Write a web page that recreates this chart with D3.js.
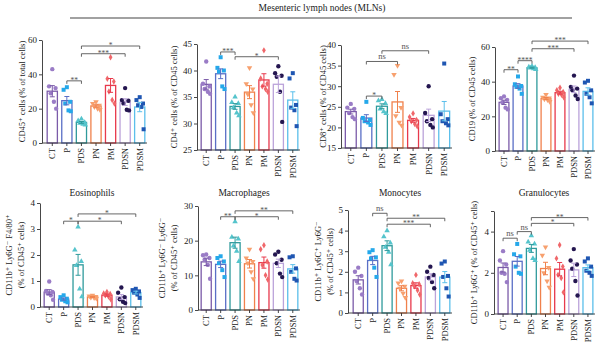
<!DOCTYPE html>
<html>
<head>
<meta charset="utf-8">
<script src="https://cdn.jsdelivr.net/npm/d3@7"></script>
<style>
  body { margin: 0; background: #fff; }
  svg { display: block; }
  text { font-family: "Liberation Serif", "DejaVu Serif", serif; fill: #222; }
</style>
</head>
<body>
<svg id="mln" width="600" height="348"></svg>
<script>
const groups = ["CT", "P", "PDS", "PN", "PM", "PDSN", "PDSM"];

// per-mouse values for each group, same order as groups
const cd45 = [
  [43, 33, 32, 29, 24, 20],
  [32.5, 31, 24, 23, 19, 18.5],
  [14, 13, 12, 11.5, 11, 10.5],
  [24, 23, 22, 21, 20, 19.5],
  [50, 37.4, 35.8, 30, 25, 23],
  [32, 25, 24.6, 23, 19.4, 19],
  [26.7, 25, 23, 22, 21, 8]
];
const cd4 = [
  [41.7, 37.5, 37, 36.5, 36, 35.6],
  [42.5, 40.5, 40, 39.8, 37, 36.5],
  [35, 34, 33.8, 33, 32, 31.5],
  [40.5, 37.5, 36.5, 35.5, 33.5, 32],
  [43.8, 38.5, 37.5, 37, 36.5, 36],
  [40.8, 39.5, 39, 38.8, 36, 30.3],
  [39.5, 38.5, 33.5, 33, 32.5, 29.5]
];
const cd8 = [
  [25.7, 24.8, 24.5, 23.5, 22.5, 22],
  [26.2, 22.3, 21.8, 21.5, 21.2, 20.6],
  [26.8, 26.5, 25.8, 24.5, 23.8, 23.4],
  [35, 32.8, 24.8, 22.8, 21.2, 20.5],
  [23.4, 22.5, 21.8, 21.5, 20.8, 20.3],
  [30, 23.5, 22, 21.5, 20.6, 20],
  [35.5, 23.2, 22, 21.5, 21, 20.5]
];
const cd19 = [
  [31.5, 30.5, 29.5, 28, 25, 24],
  [43, 38.5, 37.5, 37, 36, 33],
  [49, 48.5, 48.2, 48, 47.5, 47],
  [32.5, 31, 30.5, 30, 29.5, 28.5],
  [36.5, 35, 34, 33, 32.5, 31],
  [43.5, 37, 36, 35, 32, 30],
  [40.5, 39.5, 35, 33, 31, 27.5]
];
const eosinophils = [
  [0.98, 0.62, 0.58, 0.52, 0.45, 0.28],
  [0.45, 0.38, 0.32, 0.28, 0.22, 0.18],
  [3.08, 2.2, 1.75, 1.6, 0.7, 0.4],
  [0.45, 0.42, 0.4, 0.37, 0.35, 0.33],
  [0.58, 0.52, 0.5, 0.45, 0.4, 0.3],
  [0.75, 0.55, 0.38, 0.3, 0.2, 0.15],
  [0.7, 0.65, 0.6, 0.55, 0.48, 0.35]
];
const macrophages = [
  [16, 15.8, 15, 14.5, 13, 9],
  [15.5, 15, 14, 13.5, 11.5, 9.5],
  [25.5, 21, 20.5, 18.5, 17, 14],
  [17.5, 15, 14, 13.5, 11, 9],
  [18.7, 17.5, 14, 13, 10, 8.8],
  [16.8, 16, 14.5, 13.5, 10.5, 9.5],
  [15.5, 15.2, 12, 11, 9, 8.5]
];
const monocytes = [
  [2.2, 2.0, 1.8, 1.55, 1.2, 0.9],
  [3.05, 2.95, 2.7, 2.65, 2.2, 1.75],
  [4.0, 3.7, 3.4, 3.2, 2.95, 2.35],
  [1.55, 1.45, 1.3, 1.2, 0.95, 0.75],
  [1.85, 1.45, 1.4, 1.3, 1.1, 0.9],
  [2.25, 2.0, 1.85, 1.7, 1.5, 1.2],
  [2.5, 2.4, 1.8, 1.75, 1.2, 0.8]
];
const granulocytes = [
  [3.05, 2.6, 2.4, 2.0, 1.95, 1.55],
  [3.4, 2.9, 2.8, 2.3, 2.0, 1.95],
  [3.8, 3.5, 3.4, 3.1, 2.7, 2.6],
  [3.25, 2.85, 2.25, 2.0, 1.6, 1.3],
  [3.35, 2.7, 2.3, 1.9, 1.75, 1.05],
  [3.15, 2.6, 2.4, 2.2, 1.6, 0.9],
  [2.7, 2.55, 2.3, 2.1, 2.0, 1.85]
];

// comparisons: [from, to, bracket height (data units), label]
const cd45Sig = [["P", "PDS", 36.2, "**"], ["PDS", "PDSN", 52, "***"], ["PDS", "PDSM", 56.5, "*"]];
const cd4Sig = [["P", "PDS", 43.5, "***"], ["PDS", "PDSN", 42.6, "*"]];
const cd8Sig = [["P", "PDS", 27.6, "*"], ["P", "PN", 36, "ns"], ["PDS", "PDSN", 38.6, "ns"]];
const cd19Sig = [["CT", "P", 46.9, "**"], ["P", "PDS", 52.1, "****"], ["PDS", "PDSN", 59, "***"], ["PDS", "PDSM", 63.4, "***"]];
const eosSig = [["P", "PDS", 3.3, "*"], ["PDS", "PDSN", 3.3, "*"], ["PDS", "PDSM", 3.58, "*"]];
const macSig = [["P", "PDS", 26.9, "**"], ["PDS", "PDSN", 26.9, "*"], ["PDS", "PDSM", 28.6, "**"]];
const monoSig = [["P", "PDS", 4.84, "ns"], ["PDS", "PDSN", 4.31, "***"], ["PDS", "PDSM", 4.6, "**"]];
const granSig = [["CT", "P", 3.68, "ns"], ["P", "PDS", 4.0, "ns"], ["PDS", "PDSN", 4.4, "*"], ["PDS", "PDSM", 4.68, "**"]];

const barStroke = ["#7b5ba9", "#5a6fc6", "#2f9a9c", "#f0814c", "#e8394c", "#bba3da", "#5bbfeb"];
const dotFill = ["#9a7cc6", "#25a8ea", "#55c4cc", "#f7a06e", "#f0676a", "#241650", "#1f56b2"];
const shapes = [d3.symbolCircle, d3.symbolSquare, d3.symbolTriangle, d3.symbolTriangle,
                d3.symbolDiamond, d3.symbolCircle, d3.symbolSquare];
const shapeSize = [15, 16, 13, 13, 12, 15, 16];

const panels = [
  { data: cd45, sig: cd45Sig, domain: [0, 60], ticks: [0, 20, 40, 60], ax: 42, range: [45, 147], top: 40, bot: 143,
    ylab: ["CD45⁺ cells (% of total cells)"], labX: [22] },
  { data: cd4, sig: cd4Sig, domain: [25, 45], ticks: [25, 30, 35, 40, 45], ax: 197, range: [199, 300], top: 44, bot: 150,
    ylab: ["CD4⁺ cells (% of CD45 cells)"], labX: [174] },
  { data: cd8, sig: cd8Sig, domain: [15, 40], ticks: [15, 20, 25, 30, 35, 40], ax: 341, range: [343, 452], top: 45, bot: 148,
    ylab: ["CD8⁺ cells (% of CD45 cells)"], labX: [323] },
  { data: cd19, sig: cd19Sig, domain: [0, 60], ticks: [0, 20, 40, 60], ax: 495, range: [497, 595], top: 47, bot: 151,
    ylab: ["CD19 (% of CD45 cells)"], labX: [472] },
  { data: eosinophils, sig: eosSig, domain: [0, 4], ticks: [0, 1, 2, 3, 4], ax: 40, range: [42, 143], top: 203, bot: 307,
    ylab: ["CD11b⁺ Ly6G⁻ F4/80⁺", "(% of CD45⁺ cells)"], labX: [9, 21], title: "Eosinophils", titleX: 92 },
  { data: macrophages, sig: macSig, domain: [0, 30], ticks: [0, 10, 20, 30], ax: 198, range: [199, 300], top: 206, bot: 310,
    ylab: ["CD11b⁺ Ly6G⁻ Ly6G⁻", "(% of CD45⁺ cells)"], labX: [162, 174], title: "Macrophages", titleX: 244 },
  { data: monocytes, sig: monoSig, domain: [0, 5], ticks: [0, 1, 2, 3, 4, 5], ax: 348, range: [351, 452], top: 210, bot: 313,
    ylab: ["CD11b⁺ Ly6C⁺ Ly6G⁻", "(% of CD45⁺ cells)"], labX: [318, 330], title: "Monocytes", titleX: 400 },
  { data: granulocytes, sig: granSig, domain: [0, 5], ticks: [0, 2, 4, 5], ax: 494, range: [496, 595], top: 211, bot: 314,
    ylab: ["CD11b⁺ Ly6G⁺ (% of CD45⁺ cells)"], labX: [474], title: "Granulocytes", titleX: 544 }
];

const svg = d3.select("#mln");

svg.append("text")
  .attr("x", 322).attr("y", 11)
  .attr("text-anchor", "middle")
  .style("font-size", "9.5px")
  .text("Mesenteric lymph nodes (MLNs)");
svg.append("line")
  .attr("x1", 70).attr("x2", 572).attr("y1", 18).attr("y2", 18)
  .attr("stroke", "#444").attr("stroke-width", 1.2);

// horizontal spread of the dots inside a bar, as fractions of the bar width
const spread = [0, -0.32, 0.32, -0.16, 0.16, 0.38, -0.38];

panels.forEach(p => {
  const g = svg.append("g");
  const x = d3.scaleBand().domain(groups).range(p.range).paddingInner(0.3).paddingOuter(0.15);
  const y = d3.scaleLinear().domain(p.domain).range([p.bot, p.top]);
  const bw = x.bandwidth();

  const stats = p.data.map((vals, i) => {
    const m = d3.mean(vals);
    const se = d3.deviation(vals) / Math.sqrt(vals.length);
    return { g: groups[i], i, m, se, vals };
  });

  // bars
  g.selectAll("rect.bar").data(stats).join("rect")
    .attr("x", d => x(d.g))
    .attr("y", d => y(d.m))
    .attr("width", bw)
    .attr("height", d => y(p.domain[0]) - y(d.m))
    .attr("fill", "#fff")
    .attr("stroke", d => barStroke[d.i])
    .attr("stroke-width", 1.3);

  // individual animals
  stats.forEach(d => {
    const cx = x(d.g) + bw / 2;
    g.selectAll(null).data(d.vals).join("path")
      .attr("d", d3.symbol().type(shapes[d.i]).size(shapeSize[d.i]))
      .attr("transform", (v, k) => `translate(${cx + spread[k % spread.length] * bw},${y(v)})` + (d.i === 3 ? " rotate(180)" : ""))
      .attr("fill", dotFill[d.i]);
  });

  // mean ± SEM
  const err = g.selectAll("g.err").data(stats).join("g")
    .attr("stroke", d => barStroke[d.i]).attr("stroke-width", 1);
  err.append("line")
    .attr("x1", d => x(d.g) + bw / 2).attr("x2", d => x(d.g) + bw / 2)
    .attr("y1", d => y(d.m - d.se)).attr("y2", d => y(d.m + d.se));
  err.append("line")
    .attr("x1", d => x(d.g) + bw / 2 - 2.5).attr("x2", d => x(d.g) + bw / 2 + 2.5)
    .attr("y1", d => y(d.m + d.se)).attr("y2", d => y(d.m + d.se));
  err.append("line")
    .attr("x1", d => x(d.g) + bw / 2 - 2.5).attr("x2", d => x(d.g) + bw / 2 + 2.5)
    .attr("y1", d => y(d.m - d.se)).attr("y2", d => y(d.m - d.se));

  // axes
  const yAxis = g.append("g")
    .attr("transform", `translate(${p.ax},0)`)
    .call(d3.axisLeft(y).tickValues(p.ticks).tickSize(3).tickSizeOuter(0)
      .tickFormat(v => v === 5 && p.ticks.length === 4 ? "" : v));
  yAxis.selectAll("text").style("font-size", "9px").attr("x", -5);

  const xAxis = g.append("g")
    .attr("transform", `translate(0,${p.bot})`)
    .call(d3.axisBottom(x).tickSize(3).tickSizeOuter(0));
  xAxis.select(".domain").attr("d", `M${p.ax},0H${p.range[1]}`);
  xAxis.selectAll("text")
    .attr("transform", "rotate(-90)")
    .attr("x", -5).attr("y", 0).attr("dy", "0.35em")
    .style("text-anchor", "end")
    .style("font-size", "8.5px");
  g.selectAll(".domain, .tick line").attr("stroke", "#333").attr("stroke-width", 0.9);

  // y label
  const mid = (p.top + p.bot) / 2;
  p.ylab.forEach((t, k) => {
    g.append("text")
      .attr("transform", `translate(${p.labX[k]},${mid}) rotate(-90)`)
      .attr("text-anchor", "middle")
      .attr("dy", "0.35em")
      .style("font-size", "8.5px")
      .text(t);
  });

  if (p.title) {
    g.append("text")
      .attr("x", p.titleX).attr("y", 196)
      .attr("text-anchor", "middle")
      .style("font-size", "9.5px")
      .text(p.title);
  }

  // significance brackets
  p.sig.forEach(([a, b, h, lab]) => {
    const xa = x(a) + bw / 2, xb = x(b) + bw / 2, yy = y(h);
    const ns = lab === "ns";
    g.append("path")
      .attr("d", `M${xa},${yy + 3}V${yy}H${xb}V${yy + 3}`)
      .attr("fill", "none").attr("stroke", "#555").attr("stroke-width", 0.9);
    g.append("text")
      .attr("x", (xa + xb) / 2).attr("y", ns ? yy - 2 : yy + 2)
      .attr("text-anchor", "middle")
      .style("font-size", ns ? "8.5px" : "7.5px")
      .style("fill", "#555")
      .text(lab);
  });
});
</script>
</body>
</html>
